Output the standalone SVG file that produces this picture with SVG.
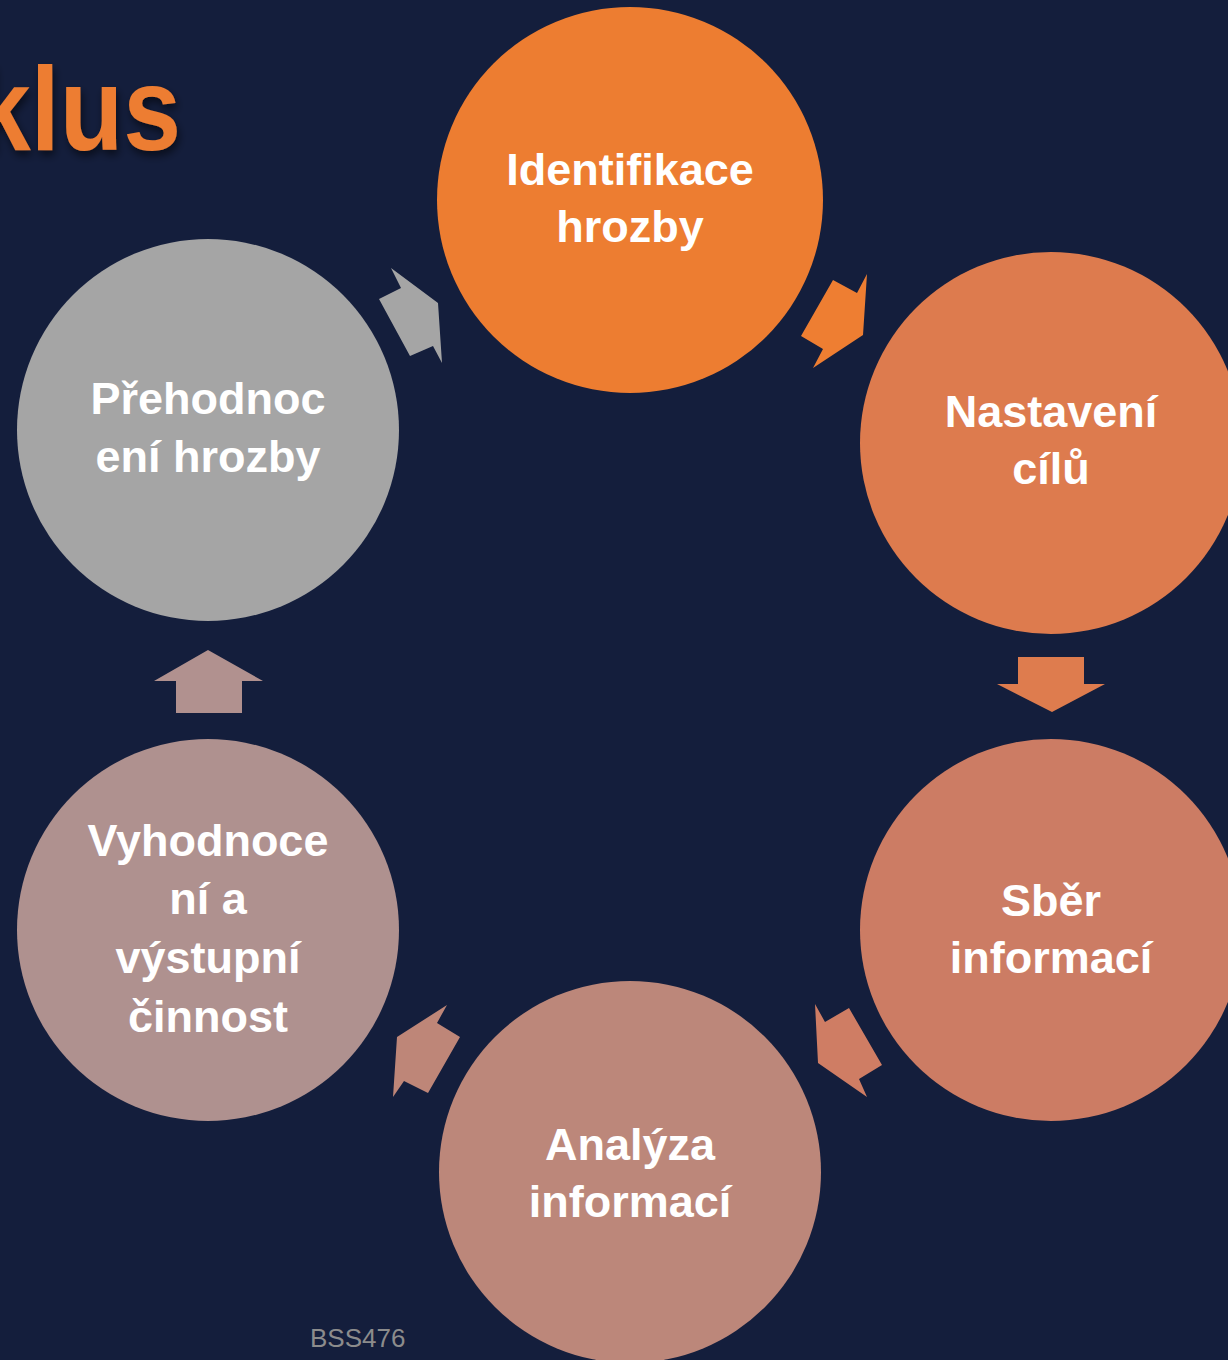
<svg xmlns="http://www.w3.org/2000/svg" width="1228" height="1360" viewBox="0 0 1228 1360">
<defs>
<style>
.lbl{font-family:"Liberation Sans",Arial,sans-serif;font-weight:bold;font-size:45px;fill:#FFFFFF;text-anchor:middle}
.title{font-family:"Liberation Sans",Arial,sans-serif;font-weight:bold;font-size:118px;fill:#ED7D31}
.foot{font-family:"Liberation Sans",Arial,sans-serif;font-size:26px;fill:#8C8C8C}
</style>
<filter id="sh" x="-20%" y="-20%" width="140%" height="150%">
<feGaussianBlur in="SourceAlpha" stdDeviation="4"/>
<feOffset dx="2" dy="5" result="b"/>
<feFlood flood-color="#000000" flood-opacity="0.55"/>
<feComposite in2="b" operator="in"/>
<feMerge><feMergeNode/><feMergeNode in="SourceGraphic"/></feMerge>
</filter>
</defs>
<rect width="1228" height="1360" fill="#141E3C"/>
<text class="title" x="-27" y="150" textLength="208" lengthAdjust="spacingAndGlyphs" filter="url(#sh)">klus</text>

<g id="connectors">
<polygon points="391,268 401,288 379,299 410,356 433,346 442,363 438,303" fill="#A5A5A5"/>
<polygon points="833,280 857,293 867,274 863,335 813,368 823,349 801,336" fill="#EE7E32"/>
<polygon points="1018,657 1084,657 1084,684 1105,684 1052,712 997,684 1018,684" fill="#DE7C4E"/>
<polygon points="815,1004 825,1022 849,1008 882,1065 859,1079 867,1097 818,1063" fill="#CF7D64"/>
<polygon points="447,1005 437,1023 460,1037 428,1093 404,1081 393,1097 397,1037" fill="#BE8678"/>
<polygon points="208,650 263,681 242,681 242,713 176,713 176,681 154,681" fill="#B1918F"/>
</g>

<g id="n1">
<circle cx="630" cy="200" r="193" fill="#ED7D31"/>
<text class="lbl" x="630" y="185">Identifikace</text>
<text class="lbl" x="630" y="242">hrozby</text>
</g>
<g id="n2">
<circle cx="1051" cy="443" r="191" fill="#DD7B4E"/>
<text class="lbl" x="1051" y="427">Nastavení</text>
<text class="lbl" x="1051" y="484">cílů</text>
</g>
<g id="n3">
<circle cx="1051" cy="930" r="191" fill="#CC7C64"/>
<text class="lbl" x="1051" y="916">Sběr</text>
<text class="lbl" x="1051" y="973">informací</text>
</g>
<g id="n4">
<circle cx="630" cy="1172" r="191" fill="#BC877A"/>
<text class="lbl" x="630" y="1160">Analýza</text>
<text class="lbl" x="630" y="1217">informací</text>
</g>
<g id="n5">
<circle cx="208" cy="930" r="191" fill="#AF918F"/>
<text class="lbl" x="208" y="856">Vyhodnoce</text>
<text class="lbl" x="208" y="914">ní a</text>
<text class="lbl" x="208" y="973">výstupní</text>
<text class="lbl" x="208" y="1032">činnost</text>
</g>
<g id="n6">
<circle cx="208" cy="430" r="191" fill="#A5A5A5"/>
<text class="lbl" x="208" y="414">Přehodnoc</text>
<text class="lbl" x="208" y="472">ení hrozby</text>
</g>
<text class="foot" x="310" y="1347">BSS476</text>
</svg>
